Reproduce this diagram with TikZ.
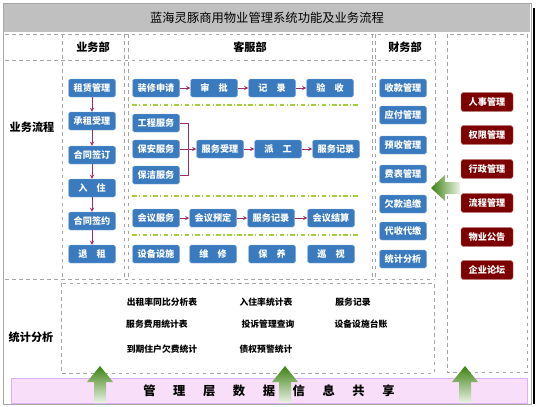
\documentclass[tikz,border=0pt]{standalone}
\usepackage{fontspec}
\setmainfont{Noto Sans CJK SC}
\usepackage{tikz}

\definecolor{boxblue}{RGB}{58,122,190}
\definecolor{boxred}{RGB}{125,0,0}
\definecolor{flowline}{RGB}{160,45,100}
\definecolor{dashgray}{RGB}{165,165,165}
\definecolor{limeline}{RGB}{165,205,60}
\definecolor{titlegray}{RGB}{192,192,192}
\definecolor{arrowgreen}{RGB}{60,130,15}
\definecolor{barpink}{RGB}{248,222,248}
\definecolor{barline}{RGB}{222,178,240}

\tikzset{
	bluebox/.style={fill=boxblue, draw=boxblue!60!white, rounded corners=1.5pt, text=white,
		font=\bfseries\fontsize{7.8}{8}\selectfont, minimum width=1.41cm, minimum height=0.54cm, inner sep=0pt},
	redbox/.style={fill=boxred, draw=boxred!60!white, rounded corners=1.5pt, text=white,
		font=\bfseries\fontsize{7.8}{8}\selectfont, minimum width=1.56cm, minimum height=0.56cm, inner sep=0pt},
	coldash/.style={draw=dashgray, dashed, line width=0.6pt},
	groupline/.style={draw=limeline, dash pattern=on 4pt off 2pt on 1pt off 2pt, line width=0.9pt},
	flow/.style={draw=flowline, ->, line width=0.6pt},
	headtext/.style={font=\bfseries\fontsize{9.5}{10}\selectfont},
	stattext/.style={font=\bfseries\fontsize{7.5}{8}\selectfont}
}

\begin{document}
\begin{tikzpicture}[x=0.03cm, y=-0.03cm, >=stealth]
		\useasboundingbox (0,0) rectangle (540,406);
		\draw[gray!70, line width=0.8pt] (3,3) rectangle (531,404);
		\draw[black, line width=2pt] (534,8)--(534,404);
		\fill[titlegray] (4,4) rectangle (530,32);
		\node (title) at (267,18) {\fontsize{10.5}{11}\selectfont 蓝海灵豚商用物业管理系统功能及业务流程};

		\draw[coldash] (5,34)--(435,34);
		\draw[coldash] (5,60)--(435,60);
		\draw[coldash] (5,279)--(435,279);
		\draw[coldash] (62,34)--(62,279);
		\draw[coldash] (124,34)--(124,279);
		\draw[coldash] (128,34)--(128,279);
		\draw[coldash] (372,34)--(372,279);
		\draw[coldash] (375,34)--(375,279);
		\draw[coldash] (435,34)--(435,279);
		\draw[coldash] (447,34) rectangle (527,372);
		\draw[coldash] (61,283) rectangle (434,373);

		\node[headtext] (ywb) at (93,47) {业务部};
		\node[headtext] (kfb) at (250,47) {客服部};
		\node[headtext] (cwb) at (405,47) {财务部};
		\node[headtext] (ywlc) at (32,127) {业务流程};
		\node[headtext] (tjfx) at (31,337) {统计分析};

		\node[bluebox] (zl) at (92,88) {租赁管理};
		\node[bluebox] (cz) at (92,121) {承租受理};
		\node[bluebox] (qd) at (92,155) {合同签订};
		\node[bluebox] (rz) at (92,188) {入\quad 住};
		\node[bluebox] (qy) at (92,221) {合同签约};
		\node[bluebox] (tz) at (92,254) {退\quad 租};
		\draw[flow] (zl)--(cz);
		\draw[flow] (cz)--(qd);
		\draw[flow] (qd)--(rz);
		\draw[flow] (rz)--(qy);
		\draw[flow] (qy)--(tz);

		\node[bluebox] (zx) at (156,88) {装修申请};
		\node[bluebox] (sp) at (214,88) {审\quad 批};
		\node[bluebox] (jl) at (272,88) {记\quad 录};
		\node[bluebox] (ys) at (330,88) {验\quad 收};
		\draw[flow] (zx)--(sp);
		\draw[flow] (sp)--(jl);
		\draw[flow] (jl)--(ys);
		\draw[groupline] (132,105)--(360,105);

		\node[bluebox] (gc) at (156,123) {工程服务};
		\node[bluebox] (ba) at (156,149) {保安服务};
		\node[bluebox] (bj) at (156,175) {保洁服务};
		\node[bluebox] (sl) at (220,149) {服务受理};
		\node[bluebox] (pg) at (278,149) {派\quad 工};
		\node[bluebox] (fj) at (336,149) {服务记录};
		\coordinate (hub) at (188,149);
		\draw[flowline, line width=0.6pt] (gc.east) -| (hub) (bj.east) -| (hub);
		\draw[flow] (ba)--(sl);
		\draw[flow] (sl)--(pg);
		\draw[flow] (pg)--(fj);
		\draw[groupline] (132,196)--(360,196);

		\node[bluebox] (hf) at (156,218) {会议服务};
		\node[bluebox] (hd) at (213,218) {会议预定};
		\node[bluebox] (hj) at (271,218) {服务记录};
		\node[bluebox] (hs) at (331,218) {会议结算};
		\draw[flow] (hf)--(hd);
		\draw[flow] (hd)--(hj);
		\draw[flow] (hj)--(hs);
		\draw[groupline] (132,235)--(360,235);

		\node[bluebox] (sb) at (156,254) {设备设施};
		\node[bluebox] (wx) at (213,254) {维\quad 修};
		\node[bluebox] (by) at (272,254) {保\quad 养};
		\node[bluebox] (xs) at (331,254) {巡\quad 视};

		\node[bluebox] (sk) at (403,88) {收款管理};
		\node[bluebox] (yf) at (403,115) {应付管理};
		\node[bluebox] (yus) at (403,145) {预收管理};
		\node[bluebox] (fb) at (403,174) {费表管理};
		\node[bluebox] (qk) at (403,204) {欠款追缴};
		\node[bluebox] (ds) at (403,231) {代收代缴};
		\node[bluebox] (tj) at (403,259) {统计分析};

		\node[redbox] (rs) at (487,102) {人事管理};
		\node[redbox] (qx) at (487,135) {权限管理};
		\node[redbox] (xz) at (487,169) {行政管理};
		\node[redbox] (lc) at (487,203) {流程管理};
		\node[redbox] (gg) at (487,237) {物业公告};
		\node[redbox] (lt) at (487,270) {企业论坛};

		\node[stattext] (czl) at (162,302) {出租率同比分析表};
		\node[stattext] (rzl) at (266,302) {入住率统计表};
		\node[stattext] (fwjl) at (353,302) {服务记录};
		\node[stattext] (fyb) at (157,324) {服务费用统计表};
		\node[stattext] (ts) at (268,324) {投诉管理查询};
		\node[stattext] (tz2) at (361,324) {设备设施台账};
		\node[stattext] (qf) at (162,349) {到期住户欠费统计};
		\node[stattext] (zq) at (266,349) {债权预警统计};

		\shade[top color=barpink, middle color=white, bottom color=barpink] (11,378) rectangle (527,403);
		\draw[barline, line width=0.8pt] (11,378) rectangle (527,403);
		\node (share) at (269,391) {\bfseries\fontsize{10.5}{11}\selectfont 管\hspace{15pt}理\hspace{15pt}层\hspace{15pt}数\hspace{15pt}据\hspace{15pt}信\hspace{15pt}息\hspace{15pt}共\hspace{15pt}享};

		\foreach \ax in {100,285,465}
			\shade[top color=arrowgreen, bottom color=arrowgreen!10] (\ax,366)--(\ax+13,382)--(\ax+6,382)--(\ax+6,403)--(\ax-6,403)--(\ax-6,382)--(\ax-13,382)--cycle;
		\shade[left color=arrowgreen, right color=arrowgreen!10] (431,188)--(445,175)--(445,182)--(460,182)--(460,194)--(445,194)--(445,201)--cycle;
	\end{tikzpicture}
\end{document}
